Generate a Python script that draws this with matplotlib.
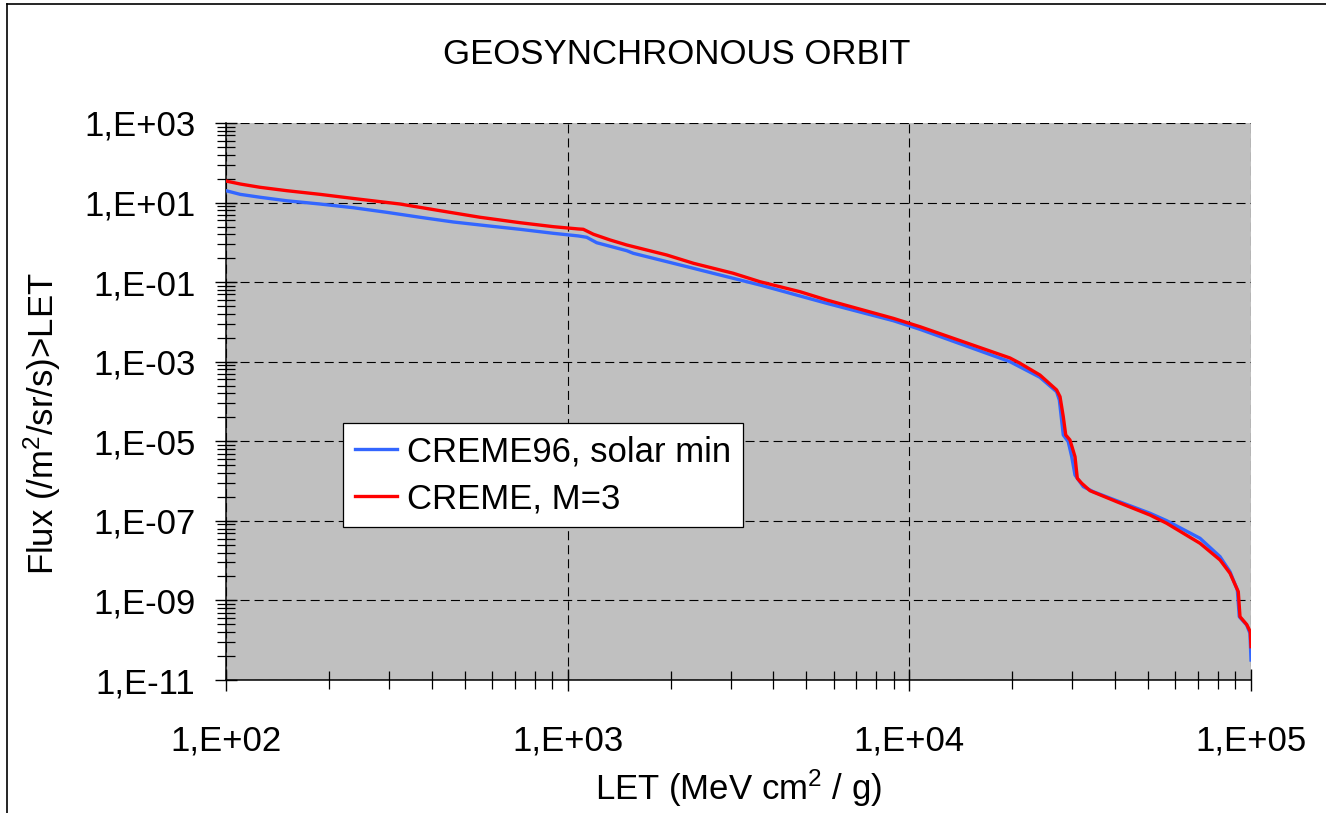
import matplotlib
matplotlib.use("Agg")
import matplotlib.pyplot as plt
from matplotlib.lines import Line2D

plt.rcParams['font.family'] = ['Liberation Sans', 'DejaVu Sans']
plt.rcParams['mathtext.fontset'] = 'custom'
plt.rcParams['mathtext.rm'] = 'Liberation Sans'
plt.rcParams['mathtext.it'] = 'Liberation Sans:italic'
plt.rcParams['lines.scale_dashes'] = False

# ==========================================
# data
# ==========================================
let_blue = [100, 110, 125.8, 150.6, 188.4, 235.8, 295.3, 369.7, 462.7, 579.4, 725, 907,
            1075, 1137, 1216, 1489, 1556, 2333, 2440, 3654, 4786, 5728, 8977, 10740,
            19710, 24110, 26980, 27480, 28220, 29180, 29870, 30540, 32300, 34540,
            40450, 50640, 56650, 70910, 81160, 86810, 91200, 92400, 97140, 99300, 100000]
flux_blue = [19.9, 16.1, 13.6, 11.1, 9.2, 7.43, 5.69, 4.27, 3.25, 2.62, 2.13, 1.69,
             1.45, 1.34, 0.98, 0.617, 0.531, 0.223, 0.202, 0.0848, 0.0449, 0.0294, 0.01074, 0.00653,
             1.0e-3, 4.06e-4, 1.76e-4, 1.09e-4, 1.44e-5, 9.77e-6, 4.10e-6, 1.42e-6, 7.23e-7, 5.41e-7,
             3.21e-7, 1.55e-7, 1.01e-7, 3.65e-8, 1.26e-8, 5.27e-9, 1.83e-9, 3.90e-10, 2.41e-10, 1.49e-10, 3.18e-11]

let_red = [100, 110, 125.8, 150.6, 188.4, 246.7, 323, 423, 554, 725, 907, 1075,
           1111, 1189, 1330, 1489, 1950, 2333, 3053, 3654, 4786, 5728, 8977, 10740,
           19710, 21090, 24110, 26980, 27610, 28220, 28690, 29520, 30540, 31020, 31960, 33790,
           40450, 50640, 56650, 70910, 81160, 86810, 91790, 92860, 97140, 99500, 100000]
flux_red = [34.8, 29.3, 24.2, 19.9, 16.1, 12.1, 9.2, 6.25, 4.27, 3.12, 2.48, 2.17,
            2.13, 1.60, 1.15, 0.859, 0.481, 0.298, 0.167, 0.1026, 0.0575, 0.0356, 0.0123, 0.00759,
            1.24e-3, 9.12e-4, 4.63e-4, 1.95e-4, 1.32e-4, 4.15e-5, 1.44e-5, 1.08e-5, 4.10e-6, 1.17e-6, 8.79e-7, 5.73e-7,
            3.03e-7, 1.40e-7, 8.69e-8, 2.73e-8, 1.04e-8, 4.81e-9, 1.66e-9, 3.90e-10, 2.48e-10, 1.64e-10, 6.87e-11]

series_names = ['CREME96, solar min', 'CREME, M=3']
series_colors = ['#3366FF', '#FF0000']

x_ticks = [1e2, 1e3, 1e4, 1e5]
x_labels = ['1,E+02', '1,E+03', '1,E+04', '1,E+05']
y_ticks = [1e3, 1e1, 1e-1, 1e-3, 1e-5, 1e-7, 1e-9, 1e-11]
y_labels = ['1,E+03', '1,E+01', '1,E-01', '1,E-03', '1,E-05', '1,E-07', '1,E-09', '1,E-11']

FS = 25

# ==========================================
# figure
# ==========================================
fig = plt.figure(figsize=(13.26, 8.13), dpi=100)
ax = fig.add_axes([0.17044, 0.16359, 0.77300, 0.68512])
ax.set_facecolor('#C0C0C0')

ax.plot(let_blue, flux_blue, color=series_colors[0], linewidth=2.4, label=series_names[0], zorder=3)
ax.plot(let_red, flux_red, color=series_colors[1], linewidth=2.4, label=series_names[1], zorder=4)

ax.set_xscale('log')
ax.set_yscale('log')
ax.set_xlim(1e2, 1e5)
ax.set_ylim(1e-11, 1e3)

ax.set_xticks(x_ticks)
ax.set_xticklabels(x_labels)
ax.set_yticks(y_ticks)
ax.set_yticklabels(y_labels)

# minor ticks: 2..9 per decade on x, k^2 steps per 2-decade period on y
x_minor = [10 ** e * k for e in range(2, 5) for k in range(2, 10)]
y_minor = [t * k * k for t in y_ticks[1:] for k in range(2, 10)]
ax.set_xticks(x_minor, minor=True)
ax.set_yticks(y_minor, minor=True)
ax.tick_params(which='minor', labelleft=False, labelbottom=False)

ax.tick_params(axis='both', which='major', direction='inout', length=16, width=1.0,
               colors='black', labelsize=FS)
ax.tick_params(axis='both', which='minor', direction='inout', length=13, width=0.9,
               colors='black')
ax.tick_params(axis='y', which='major', pad=14)
ax.tick_params(axis='x', which='major', pad=24)

ax.grid(True, which='major', color='black', linestyle=(0, (6.5, 3.6)), linewidth=0.8)
ax.set_axisbelow(True)

for side in ['top', 'right']:
    ax.spines[side].set_visible(False)
for side in ['left', 'bottom']:
    ax.spines[side].set_linewidth(1.1)
    ax.spines[side].set_color('black')

leg = ax.legend(loc='upper left', bbox_to_anchor=(0.1141, 0.4614), borderaxespad=0,
                fontsize=FS, frameon=True, fancybox=False, framealpha=1,
                edgecolor='black', handlelength=1.2, handletextpad=0.3,
                borderpad=0.35, labelspacing=0.4)
leg.get_frame().set_linewidth(0.9)

# titles / axis labels
fig.text(677 / 1326, 1 - 55 / 813, 'GEOSYNCHRONOUS ORBIT', ha='center', va='center', fontsize=FS)
fig.text(738 / 1326, 1 - 800 / 813, 'LET (MeV cm$^2$ / g)', ha='center', va='baseline', fontsize=FS)
fig.text(42 / 1326, 1 - 424 / 813, 'Flux (/m$^2$/sr/s)>LET', ha='center', va='center',
         rotation=90, fontsize=FS)

# outer frame of the chart object
fig.add_artist(Line2D([7 / 1326, 7 / 1326], [0, 1 - 4 / 813], transform=fig.transFigure,
                      color='black', linewidth=1.2))
fig.add_artist(Line2D([7 / 1326, 1], [1 - 4 / 813, 1 - 4 / 813], transform=fig.transFigure,
                      color='black', linewidth=1.2))

fig.savefig('out.png', dpi=100, facecolor='white')
